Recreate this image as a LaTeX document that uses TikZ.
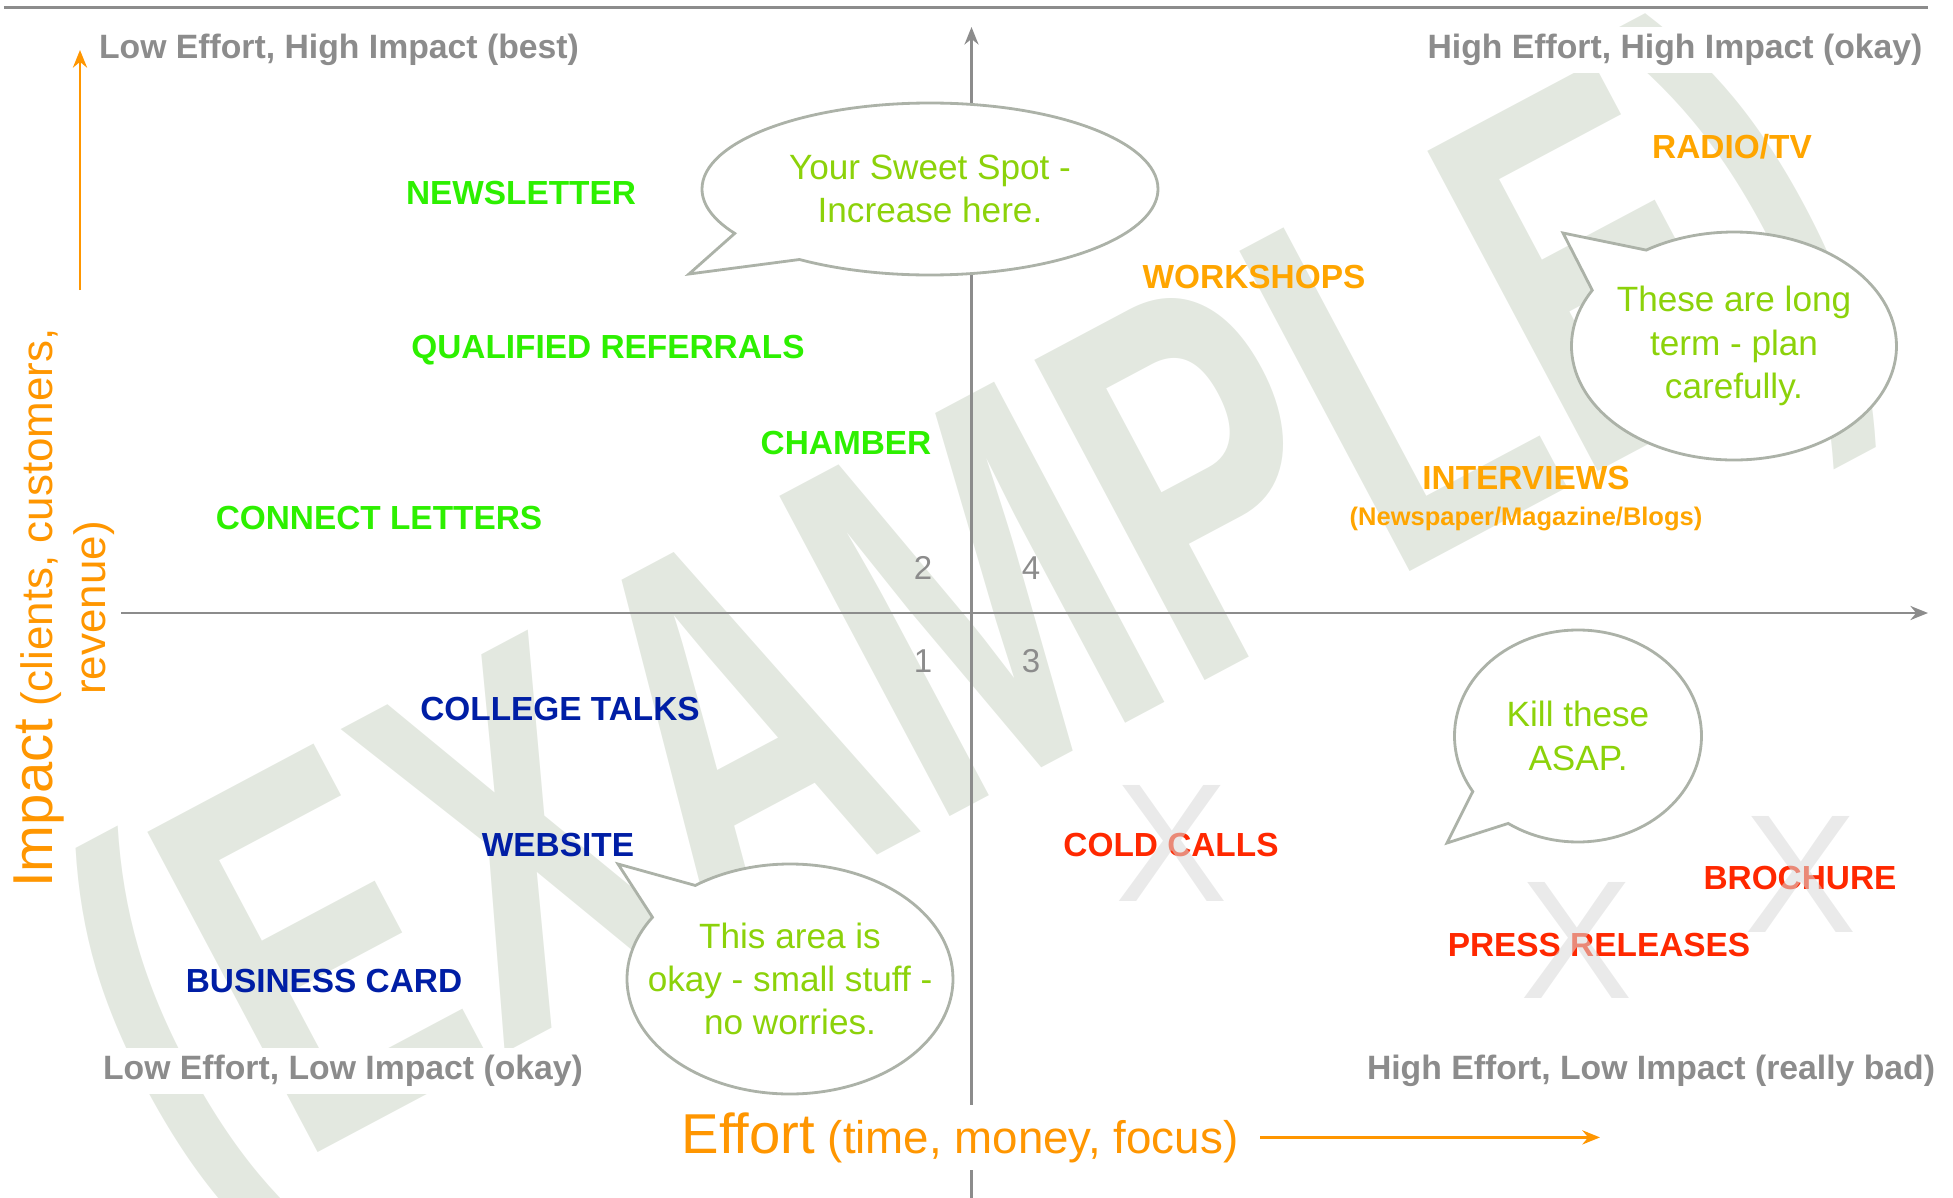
\documentclass[tikz,border=0pt]{standalone}
\usepackage{fontspec}
\setmainfont{Liberation Sans}
\usetikzlibrary{arrows.meta,shapes.callouts,positioning}
\definecolor{bestgreen}{RGB}{45,240,0}
\definecolor{okayorange}{RGB}{255,165,0}
\definecolor{badred}{RGB}{255,40,0}
\definecolor{smallblue}{RGB}{0,30,165}
\definecolor{notegreen}{RGB}{140,210,10}
\definecolor{axisorange}{RGB}{255,150,0}
\definecolor{labelgray}{RGB}{140,140,140}
\definecolor{bubblegray}{RGB}{172,178,168}
\definecolor{stampgray}{RGB}{227,232,224}

\begin{document}
\begin{tikzpicture}[
    quadlabel/.style={font=\fontsize{9.6}{11}\selectfont\bfseries, text=labelgray, fill=white, inner sep=2pt},
    item/.style={font=\fontsize{9.5}{11}\selectfont\bfseries, inner sep=1pt},
    bestitem/.style={item, text=bestgreen},
    okayitem/.style={item, text=okayorange},
    smallitem/.style={item, text=smallblue},
    baditem/.style={item, text=badred},
    bubble/.style={ellipse callout, draw=bubblegray, fill=white, line width=0.8pt, inner sep=0pt},
    notetext/.style={text=notegreen, font=\fontsize{10}{12.3}\selectfont, align=center},
    quadnum/.style={text=labelgray, font=\fontsize{9.4}{10}\selectfont},
    xmark/.style={text=gray!30, opacity=0.55, font=\fontsize{48}{48}\selectfont, inner sep=0pt},
    watermark/.style={font=\fontsize{150}{150}\selectfont\bfseries, text=stampgray, rotate=28, xscale=0.66},
    axis/.style={draw=labelgray, line width=0.7pt, -{Stealth[length=5pt,width=4pt]}},
    arrow/.style={draw=axisorange, line width=0.8pt, -{Stealth[length=5pt,width=4pt]}}
]
\useasboundingbox (0,0) rectangle (19.53,-11.98);

% Background stamp
\node[watermark] (stamp) at (9.76,-6.48) {(EXAMPLE)};

% Frame line and axes
\coordinate (topleft) at (0.04,-0.075);
\coordinate (topright) at (19.28,-0.075);
\draw[labelgray, line width=1pt] (topleft) -- (topright);

\coordinate (xstart) at (1.21,-6.13);
\coordinate (xend) at (19.28,-6.13);
\coordinate (ystart) at (9.715,-11.98);
\coordinate (yend) at (9.715,-0.27);
\draw[axis] (xstart) -- (xend);
\draw[axis] (ystart) -- (yend);

% Quadrant numbers
\node[quadnum] (q2) at (9.23,-5.68) {2};
\node[quadnum] (q4) at (10.31,-5.68) {4};
\node[quadnum] (q1) at (9.23,-6.61) {1};
\node[quadnum] (q3) at (10.31,-6.61) {3};

% Speech bubbles
\coordinate (spottip) at (6.89,-2.74);
\node[bubble, minimum width=4.56cm, minimum height=1.72cm, callout pointer arc=24,
      callout absolute pointer=(spottip)] (spot) at (9.30,-1.89) {};
\node[notetext] (spottext) at (spot) {Your Sweet Spot -\\Increase here.};

\coordinate (plantip) at (15.63,-2.33);
\node[bubble, minimum width=3.25cm, minimum height=2.28cm, callout pointer arc=28,
      callout absolute pointer=(plantip)] (plan) at (17.34,-3.46) {};
\node[notetext] (plantext) at (plan) {These are long\\term - plan\\carefully.};

\coordinate (killtip) at (14.47,-8.43);
\node[bubble, minimum width=2.47cm, minimum height=2.12cm, callout pointer arc=24,
      callout absolute pointer=(killtip)] (kill) at (15.78,-7.36) {};
\node[notetext] (killtext) at (kill) {Kill these\\ASAP.};

\coordinate (smalltip) at (6.18,-8.64);
\node[bubble, minimum width=3.26cm, minimum height=2.30cm, callout pointer arc=22,
      callout absolute pointer=(smalltip)] (small) at (7.90,-9.79) {};
\node[notetext] (smalltext) at (small) {This area is\\okay - small stuff -\\no worries.};

% Quadrant labels
\node[quadlabel] (lowhigh) at (3.39,-0.50) {Low Effort, High Impact (best)};
\node[quadlabel] (highhigh) at (16.75,-0.50) {High Effort, High Impact (okay)};
\node[quadlabel] (lowlow) at (3.43,-10.71) {Low Effort, Low Impact (okay)};
\node[quadlabel] (highlow) at (16.51,-10.71) {High Effort, Low Impact (really bad)};

% Low effort, high impact
\node[bestitem] (newsletter) at (5.21,-1.93) {NEWSLETTER};
\node[bestitem] (referrals) at (6.08,-3.50) {QUALIFIED REFERRALS};
\node[bestitem] (chamber) at (8.46,-4.43) {CHAMBER};
\node[bestitem] (letters) at (3.79,-5.18) {CONNECT LETTERS};

% High effort, high impact
\node[okayitem] (workshops) at (12.54,-2.77) {WORKSHOPS};
\node[okayitem] (radio) at (17.32,-1.47) {RADIO/TV};
\node[okayitem] (interviews) at (15.26,-4.78) {INTERVIEWS};
\node[okayitem, font=\fontsize{7.25}{9}\selectfont\bfseries, below=2.5pt of interviews] (media) {(Newspaper/Magazine/Blogs)};

% Low effort, low impact
\node[smallitem] (college) at (5.60,-7.09) {COLLEGE TALKS};
\node[smallitem] (website) at (5.58,-8.45) {WEBSITE};
\node[smallitem] (card) at (3.24,-9.81) {BUSINESS CARD};

% High effort, low impact
\node[baditem] (coldcalls) at (11.71,-8.45) {COLD CALLS};
\node[baditem] (brochure) at (18.00,-8.78) {BROCHURE};
\node[baditem] (press) at (15.99,-9.45) {PRESS RELEASES};

% Crossed out
\node[xmark] (xcold) at (11.72,-8.43) {X};
\node[xmark] (xbrochure) at (18.01,-8.74) {X};
\node[xmark] (xpress) at (15.77,-9.40) {X};

% Axis titles
\node[font=\fontsize{12.5}{15}\selectfont, text=axisorange, rotate=90, align=center] (impact) at (0.645,-6.08)
    {{\fontsize{16}{15}\selectfont Impact} (clients, customers,\\revenue)};
\coordinate (impactfoot) at (0.80,-2.90);
\coordinate (impacttip) at (0.80,-0.50);
\draw[arrow] (impactfoot) -- (impacttip);

\node[font=\fontsize{13}{15}\selectfont, text=axisorange, fill=white, inner sep=2pt, anchor=base west] (effort) at (6.74,-11.53)
    {{\fontsize{16}{15}\selectfont Effort} (time, money, focus)};
\coordinate (efforttip) at (16.00,-11.38);
\draw[arrow] ([xshift=4pt]effort.east) -- (effort.east -| efforttip);

\end{tikzpicture}
\end{document}
